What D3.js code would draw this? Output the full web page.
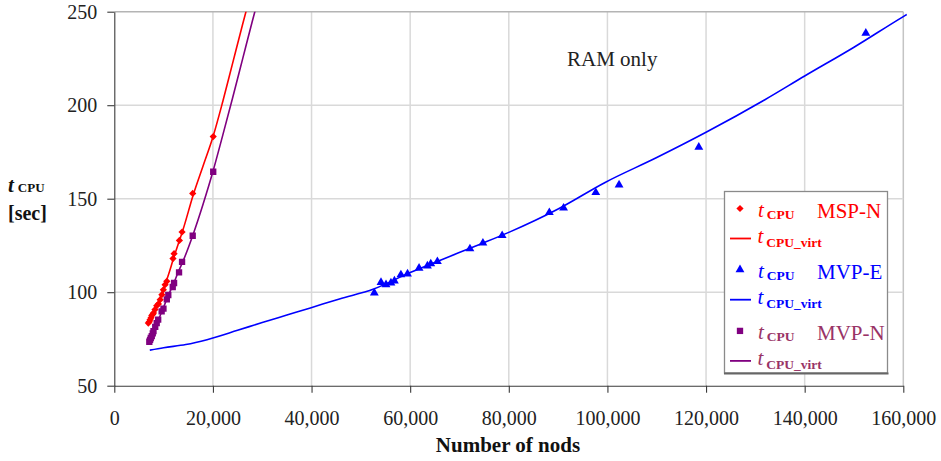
<!DOCTYPE html>
<html><head><meta charset="utf-8">
<script src="https://cdn.jsdelivr.net/npm/d3@7"></script>
<style>
body{margin:0;background:#fff}
svg{display:block}
svg text{font-family:"Liberation Serif","Times New Roman",serif}
</style></head>
<body><svg id="c" width="941" height="461"></svg>
<script>
// ---- data ----
const xTicks = [0, 20000, 40000, 60000, 80000, 100000, 120000, 140000, 160000];
const yTicks = [50, 100, 150, 200, 250];

// MSP-N measured t_CPU
const mspnX = [6900, 7100, 7250, 7450, 7600, 7800, 7950, 8250, 8600, 8950, 9300, 9650, 9950, 10300, 10650, 11900, 12120, 13200, 13740, 15900, 20060];
const mspnY = [83.5, 84.2, 85.3, 86.3, 87.5, 88.2, 88.9, 90.7, 92.8, 93.7, 96.0, 98.7, 101.3, 104.0, 105.8, 118.0, 120.6, 127.7, 132.2, 152.8, 183.2];
// MSP-N virtual t_CPU
const mspnVirtX = [6900, 8000, 9000, 10000, 11000, 12000, 13000, 14000, 16000, 18000, 20000, 22000, 24000, 26000, 27000];
const mspnVirtY = [82.5, 88.5, 95, 102, 109.5, 118, 126, 134, 152, 167.5, 183, 202, 222.5, 243, 253];

// MVP-E measured t_CPU
const mvpeX = [52730, 54080, 55100, 56100, 56800, 58120, 59460, 61800, 63500, 64180, 65520, 72120, 74750, 78650, 88220, 91110, 97640, 102360, 118530, 152400];
const mvpeY = [99.6, 105.2, 104.0, 105.0, 106.0, 109.3, 109.8, 112.9, 114.1, 115.2, 116.4, 123.2, 126.3, 130.3, 142.6, 145.0, 153.3, 157.4, 177.6, 238.5];
// MVP-E virtual t_CPU
const mvpeVirtX = [7200, 10000, 14500, 18800, 25000, 30000, 35000, 39760, 45660, 52600, 60000, 66000, 73940, 80000, 90000, 99530, 110000, 120000, 131850, 140000, 150000, 160000, 160700];
const mvpeVirtY = [69, 70.3, 72, 74.6, 79.6, 83.8, 87.8, 91.6, 96.4, 101.7, 110.5, 117, 125.4, 132, 144.5, 158.7, 172, 185.5, 202.8, 215.6, 231, 247.4, 248.5];

// MVP-N measured t_CPU
const mvpnX = [7100, 7250, 7400, 7600, 7800, 7950, 8300, 8600, 8900, 9600, 9970, 10650, 10950, 11850, 12120, 13130, 13740, 15900, 20060];
const mvpnY = [73.5, 74.5, 75.5, 76.5, 78.0, 79.2, 81.5, 83.5, 85.3, 89.7, 91.2, 96.2, 98.5, 102.8, 104.9, 110.6, 116.2, 130.2, 164.4];
// MVP-N virtual t_CPU
const mvpnVirtX = [7000, 8000, 9000, 10000, 11000, 12000, 13000, 14000, 16000, 18000, 20000, 22000, 24000, 26000, 28000, 29000];
const mvpnVirtY = [72.5, 79, 85.5, 92, 98.5, 104.5, 111, 117, 131, 147, 164.5, 184, 204, 224.5, 245, 255];

const seriesNames = ["MSP-N", "MVP-E", "MVP-N"];
const xTitle = "Number of nods";
const note = "RAM only";

// ---- drawing ----
const svg = d3.select("#c");
const x = d3.scaleLinear().domain([0, 160000]).range([114.3, 903.3]);
const y = d3.scaleLinear().domain([50, 250]).range([385.7, 11.7]);

const gridCol = "#d9d9d9";
svg.append("g").selectAll("line").data(xTicks.slice(1)).join("line")
  .attr("x1", d => x(d)).attr("x2", d => x(d)).attr("y1", y(250)).attr("y2", y(50))
  .attr("stroke", d => d === 160000 ? "#c4c4c4" : gridCol).attr("stroke-width", 1.5);
svg.append("g").selectAll("line").data(yTicks.slice(1)).join("line")
  .attr("x1", x(0)).attr("x2", x(160000)).attr("y1", d => y(d)).attr("y2", d => y(d))
  .attr("stroke", d => d === 250 ? "#b4b4b4" : gridCol).attr("stroke-width", 1.5);

const xAxis = svg.append("g").attr("transform", `translate(0,${y(50)})`)
  .call(d3.axisBottom(x).tickValues(xTicks).tickFormat(d3.format(",")).tickSize(7).tickSizeOuter(0).tickPadding(18));
const yAxis = svg.append("g").attr("transform", `translate(${x(0)},0)`)
  .call(d3.axisLeft(y).tickValues(yTicks).tickSize(7).tickSizeOuter(0).tickPadding(10));
[xAxis, yAxis].forEach(g => {
  g.selectAll("path,line").attr("stroke", "#3a3a3a").attr("stroke-width", 1.1);
  g.selectAll("text").attr("fill", "#222").style("font-size", "20px")
    .style("font-family", '"Liberation Serif","Times New Roman",serif');
});

svg.append("clipPath").attr("id", "clip").append("rect")
  .attr("x", x(0)).attr("y", y(250)).attr("width", 910 - x(0)).attr("height", y(50) - y(250));

const line = d3.line().x(d => x(d[0])).y(d => y(d[1])).curve(d3.curveMonotoneX);
const plot = svg.append("g").attr("clip-path", "url(#clip)");

const RED = "#ff0000", BLUE = "#0000ff", PURP = "#800080";
const zip = (a, b) => a.map((v, i) => [v, b[i]]);

plot.append("path").datum(zip(mspnVirtX, mspnVirtY)).attr("d", line)
  .attr("fill", "none").attr("stroke", RED).attr("stroke-width", 1.6);
plot.append("path").datum(zip(mvpnVirtX, mvpnVirtY)).attr("d", line)
  .attr("fill", "none").attr("stroke", PURP).attr("stroke-width", 1.6);
plot.append("path").datum(zip(mvpeVirtX, mvpeVirtY)).attr("d", line)
  .attr("fill", "none").attr("stroke", BLUE).attr("stroke-width", 1.6);

const diamond = d3.symbol().type(d3.symbolSquare).size(26);
const tri = d3.symbol().type(d3.symbolTriangle).size(34);
const square = d3.symbol().type(d3.symbolSquare).size(40);

plot.append("g").selectAll("path").data(zip(mvpnX, mvpnY)).join("path")
  .attr("d", square).attr("transform", d => `translate(${x(d[0])},${y(d[1])})`).attr("fill", PURP);
plot.append("g").selectAll("path").data(zip(mspnX, mspnY)).join("path")
  .attr("d", diamond).attr("transform", d => `translate(${x(d[0])},${y(d[1])}) rotate(45)`).attr("fill", RED);
plot.append("g").selectAll("path").data(zip(mvpeX, mvpeY)).join("path")
  .attr("d", tri).attr("transform", d => `translate(${x(d[0])},${y(d[1])})`).attr("fill", BLUE);

svg.append("text").attr("x", 508).attr("y", 452).attr("text-anchor", "middle")
  .style("font-size", "21px").style("font-weight", "bold").attr("fill", "#111").text(xTitle);
const yt = svg.append("text").attr("x", 8).attr("y", 192).attr("fill", "#111").style("font-weight", "bold");
yt.append("tspan").style("font-style", "italic").style("font-size", "21px").text("t");
yt.append("tspan").attr("dx", 4).style("font-size", "13px").text("CPU");
svg.append("text").attr("x", 8).attr("y", 220).attr("fill", "#111")
  .style("font-weight", "bold").style("font-size", "20px").text("[sec]");

svg.append("text").attr("x", 567).attr("y", 66).style("font-size", "21px").attr("fill", "#222").text(note);

const lg = svg.append("g");
lg.append("rect").attr("x", 724.5).attr("y", 191.5).attr("width", 163).attr("height", 181.5)
  .attr("fill", "#fff").attr("stroke", "#8a8a8a").attr("stroke-width", 1.3);
lg.append("line").attr("x1", 724).attr("x2", 888.5).attr("y1", 373.5).attr("y2", 373.5)
  .attr("stroke", "#666").attr("stroke-width", 2);
const legCols = [RED, BLUE, "#993366"];
const markCols = [RED, BLUE, PURP];
const lineCols = [RED, BLUE, PURP];
const syms = [diamond, tri, square];
seriesNames.forEach((name, i) => {
  const my = 208.5 + i * 61.2;
  const ly = my + 30;
  lg.append("path").attr("d", syms[i]).attr("transform", `translate(740,${my})` + (i === 0 ? " rotate(45)" : "")).attr("fill", markCols[i]);
  const t1 = lg.append("text").attr("x", 758).attr("y", my + 8.5).attr("fill", legCols[i]);
  t1.append("tspan").style("font-style", "italic").style("font-size", "21px").text("t");
  t1.append("tspan").attr("dx", 3).attr("dy", 1.5).style("font-weight", "bold").style("font-size", "13.5px").text("CPU");
  lg.append("text").attr("x", 817).attr("y", my + 9.5).attr("fill", legCols[i]).style("font-size", "21px").text(name);
  lg.append("line").attr("x1", 730).attr("x2", 751).attr("y1", ly).attr("y2", ly)
    .attr("stroke", lineCols[i]).attr("stroke-width", 1.8);
  const t2 = lg.append("text").attr("x", 757.5).attr("y", ly + 4.5).attr("fill", legCols[i]);
  t2.append("tspan").style("font-style", "italic").style("font-size", "21px").text("t");
  t2.append("tspan").attr("dx", 3).attr("dy", 4).style("font-weight", "bold").style("font-size", "13.5px").text("CPU_virt");
});
</script></body></html>
